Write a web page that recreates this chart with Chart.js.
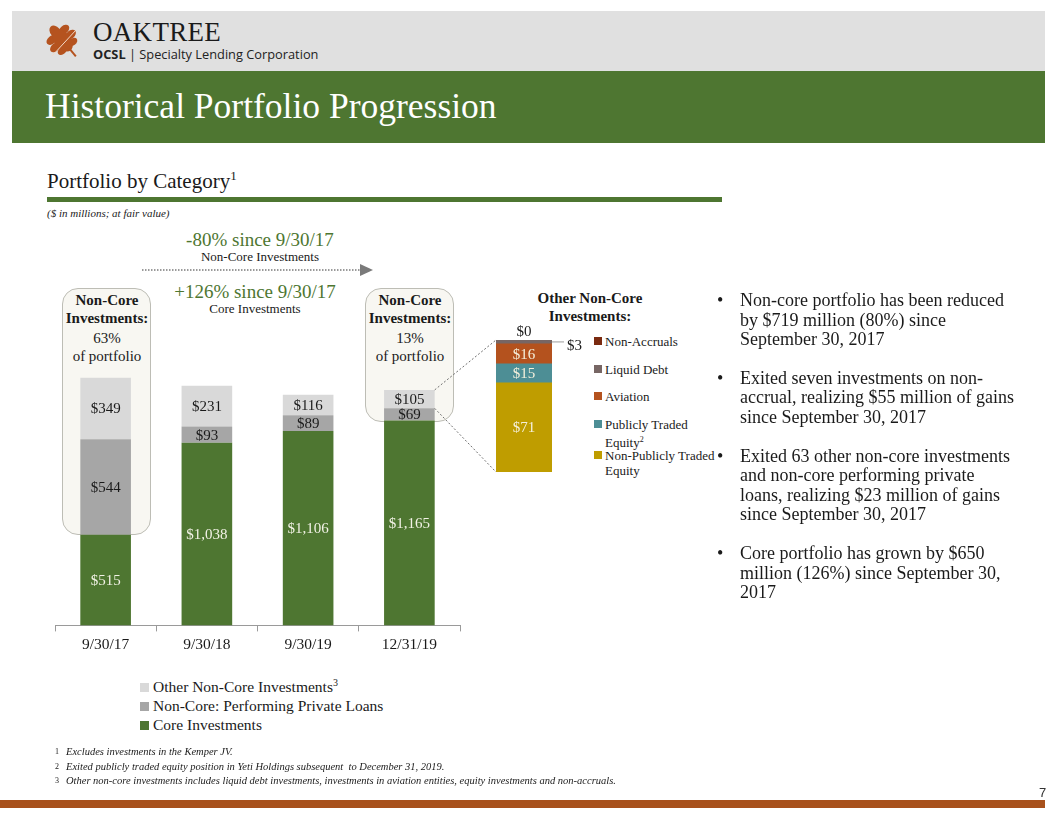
<!DOCTYPE html>
<html>
<head>
<meta charset="utf-8">
<script src="https://cdn.jsdelivr.net/npm/chart.js@4.4.1/dist/chart.umd.min.js"></script>
<style>
  html,body{margin:0;padding:0;background:#fff;}
  body{width:1056px;height:816px;position:relative;overflow:hidden;font-family:"Liberation Serif",serif;color:#1a1a1a;}
  .abs{position:absolute;}
  #topband{left:12px;top:11px;width:1033px;height:60px;background:#e0e0e0;}
  #greenband{left:12px;top:71px;width:1033px;height:72px;background:#4e7631;}
  #title{left:45px;top:85px;font-size:35.5px;color:#fff;white-space:nowrap;}
  #oak{left:93px;top:17px;font-size:27px;letter-spacing:0.3px;color:#1a1a1a;}
  #ocsl{left:93px;top:45px;font-family:"Open Sans",sans-serif;font-size:12.8px;color:#222;white-space:nowrap;}
  #sub{left:47px;top:168px;font-size:21px;white-space:nowrap;}
  #rule{left:47px;top:197px;width:675px;height:5px;background:#4e7631;}
  #units{left:47px;top:207px;font-size:11px;font-style:italic;}
  .ctr{text-align:center;white-space:nowrap;}
  .green{color:#4e7631;}
  .box{background:#f8f7f2;border:1.5px solid #bdbdb5;border-radius:16px;box-sizing:border-box;}
  .boxtxt{font-size:15px;line-height:18px;text-align:center;}
  #bullets{left:717px;top:291px;width:300px;font-size:18px;line-height:19.6px;}
  #bullets p{margin:0 0 19px 0;padding-left:23px;position:relative;}
  #bullets p:before{content:"\2022";position:absolute;left:0;top:0;}
  .leg{font-size:15.5px;line-height:19px;}
  .sq{display:inline-block;width:9px;height:9px;margin-right:4px;}
  .sleg{font-size:13px;line-height:15px;}
  .ssq{display:inline-block;width:8px;height:8px;margin-right:3px;}
  #foot{left:55px;top:745px;font-size:10.5px;font-style:italic;line-height:14.5px;}
  #foot sup{font-style:normal;font-size:8px;display:inline-block;width:11px;vertical-align:top;}
  #bottombar{left:0;top:800px;width:1045px;height:8px;background:#a8511c;}
  #pnum{left:1039px;top:785px;font-family:"Liberation Sans",sans-serif;font-size:13px;color:#333;}
</style>
</head>
<body>
<div id="topband" class="abs"></div>
<svg class="abs" style="left:40px;top:18px" width="46" height="46" viewBox="0 0 46 46">
  <g fill="#b5531f" transform="rotate(-40 23 23)">
    <ellipse cx="23" cy="11" rx="5" ry="7"/>
    <ellipse cx="15" cy="15" rx="6" ry="4"/>
    <ellipse cx="31" cy="15" rx="6" ry="4"/>
    <ellipse cx="13" cy="23" rx="6" ry="4"/>
    <ellipse cx="33" cy="23" rx="6" ry="4"/>
    <ellipse cx="16" cy="30" rx="5" ry="3.5"/>
    <ellipse cx="30" cy="30" rx="5" ry="3.5"/>
    <ellipse cx="23" cy="22" rx="8" ry="13"/>
    <rect x="22" y="33" width="2" height="10"/>
  </g>
  <line x1="12" y1="38" x2="36" y2="12" stroke="#f3d9c8" stroke-width="1"/>
</svg>
<div id="oak" class="abs">OAKTREE</div>
<div id="ocsl" class="abs"><b>OCSL</b> | Specialty Lending Corporation</div>
<div id="greenband" class="abs"></div>
<div id="title" class="abs">Historical Portfolio Progression</div>

<div id="sub" class="abs">Portfolio by Category<sup style="font-size:13px">1</sup></div>
<div id="rule" class="abs"></div>
<div id="units" class="abs">($ in millions; at fair value)</div>

<div class="abs ctr green" style="left:160px;width:200px;top:229px;font-size:19px;">-80% since 9/30/17</div>
<div class="abs ctr" style="left:160px;width:200px;top:249px;font-size:13px;">Non-Core Investments</div>
<svg class="abs" style="left:138px;top:262px" width="240" height="16">
  <line x1="4" y1="8" x2="222" y2="8" stroke="#7a7a7a" stroke-width="1.5" stroke-dasharray="1.5,1.5"/>
  <polygon points="222,2 235,8 222,14" fill="#7a7a7a"/>
</svg>
<div class="abs ctr green" style="left:155px;width:200px;top:281px;font-size:19px;">+126% since 9/30/17</div>
<div class="abs ctr" style="left:155px;width:200px;top:301px;font-size:13px;">Core Investments</div>

<div class="abs box" style="left:62px;top:288px;width:89px;height:247px;"></div>
<div class="abs boxtxt" style="left:57px;top:291px;width:100px;"><b>Non-Core<br>Investments:</b><div style="margin-top:2px">63%<br>of portfolio</div></div>
<div class="abs box" style="left:365px;top:288px;width:89px;height:134px;"></div>
<div class="abs boxtxt" style="left:360px;top:291px;width:100px;"><b>Non-Core<br>Investments:</b><div style="margin-top:2px">13%<br>of portfolio</div></div>

<canvas id="mainChart" class="abs" style="left:40px;top:340px;"></canvas>
<div id="mainLegend" class="abs leg" style="left:140px;top:673px;"></div>

<div class="abs ctr" style="left:520px;width:140px;top:289px;font-size:15px;line-height:18px;font-weight:bold;">Other Non-Core<br>Investments:</div>
<canvas id="smallChart" class="abs" style="left:480px;top:320px;"></canvas>
<div id="smallLegend" class="abs sleg" style="left:594px;top:334px;width:130px;"></div>

<canvas id="overlay" class="abs" style="left:0;top:0;pointer-events:none;" width="1056" height="816"></canvas>

<div id="bullets" class="abs">
  <p>Non-core portfolio has been reduced by $719 million (80%) since September 30, 2017</p>
  <p>Exited seven investments on non-accrual, realizing $55 million of gains since September 30, 2017</p>
  <p>Exited 63 other non-core investments and non-core performing private loans, realizing $23 million of gains since September 30, 2017</p>
  <p>Core portfolio has grown by $650 million (126%) since September 30, 2017</p>
</div>

<div id="foot" class="abs">
  <div><sup>1</sup>Excludes investments in the Kemper JV.</div>
  <div><sup>2</sup>Exited publicly traded equity position in Yeti Holdings subsequent&nbsp; to December 31, 2019.</div>
  <div><sup>3</sup>Other non-core investments includes liquid debt investments, investments in aviation entities, equity investments and non-accruals.</div>
</div>
<div id="bottombar" class="abs"></div>
<div id="pnum" class="abs">7</div>

<script>
// ---------- data ----------
const categories = ['9/30/17', '9/30/18', '9/30/19', '12/31/19'];
const coreInvestments = [515, 1038, 1106, 1165];
const performingLoans = [544, 93, 89, 69];
const otherNonCore = [349, 231, 116, 105];
const mainSeriesNames = ['Core Investments', 'Non-Core: Performing Private Loans', 'Other Non-Core Investments'];
const mainColors = ['#4e7631', '#a6a6a6', '#d9d9d9'];

const otherNames = ['Non-Publicly Traded Equity', 'Publicly Traded Equity', 'Aviation', 'Liquid Debt', 'Non-Accruals'];
const otherValues = [71, 15, 16, 3, 0];
const otherColors = ['#bf9d00', '#4d8e95', '#b4521e', '#776664', '#7a2a10'];

const SERIF = '"Liberation Serif", serif';
const fmt = v => '$' + v.toLocaleString('en-US');

// ---------- main chart ----------
const mainLabels = {
  id: 'mainLabels',
  afterDatasetsDraw(chart) {
    const ctx = chart.ctx;
    ctx.save();
    ctx.font = '15px ' + SERIF;
    ctx.textAlign = 'center';
    ctx.textBaseline = 'middle';
    chart.data.datasets.forEach((ds, di) => {
      chart.getDatasetMeta(di).data.forEach((el, i) => {
        ctx.fillStyle = di === 0 ? '#f2f2e6' : '#1a1a1a';
        ctx.fillText(fmt(ds.data[i]), el.x, (el.y + el.base) / 2 + 1);
      });
    });
    ctx.restore();
  }
};

const mc = document.getElementById('mainChart');
mc.width = 430; mc.height = 318;
const mainChart = new Chart(mc, {
  type: 'bar',
  data: {
    labels: categories,
    datasets: [
      { label: mainSeriesNames[0], data: coreInvestments, backgroundColor: mainColors[0] },
      { label: mainSeriesNames[1], data: performingLoans, backgroundColor: mainColors[1] },
      { label: mainSeriesNames[2], data: otherNonCore, backgroundColor: mainColors[2] }
    ]
  },
  options: {
    responsive: false, animation: false,
    layout: { padding: { left: 15, right: 10, top: 4, bottom: 0 } },
    datasets: { bar: { barPercentage: 0.5, categoryPercentage: 1 } },
    plugins: { legend: { display: false }, tooltip: { enabled: false } },
    scales: {
      x: {
        stacked: true,
        grid: { display: true, drawOnChartArea: false, drawTicks: true, tickLength: 6, color: '#9a9a9a', offset: true },
        border: { display: true, color: '#9a9a9a', width: 1 },
        ticks: { color: '#1a1a1a', font: { family: SERIF, size: 15.5 }, padding: 4 }
      },
      y: { stacked: true, display: false, min: 0, max: 1600 }
    }
  },
  plugins: [mainLabels]
});

// main legend (reverse order, as in the reference)
const ml = document.getElementById('mainLegend');
[2, 1, 0].forEach(i => {
  const d = document.createElement('div');
  d.innerHTML = '<span class="sq" style="background:' + mainColors[i] + '"></span>' + mainSeriesNames[i] +
    (i === 2 ? '<sup style="font-size:10px">3</sup>' : '');
  ml.appendChild(d);
});

// ---------- small chart ----------
const smallLabels = {
  id: 'smallLabels',
  afterDatasetsDraw(chart) {
    const ctx = chart.ctx;
    ctx.save();
    ctx.font = '15px ' + SERIF;
    ctx.textBaseline = 'middle';
    chart.data.datasets.forEach((ds, di) => {
      const el = chart.getDatasetMeta(di).data[0];
      const v = ds.data[0];
      if (v >= 10) {
        ctx.fillStyle = '#f5f0dc';
        ctx.textAlign = 'center';
        ctx.fillText(fmt(v), el.x, (el.y + el.base) / 2 + 1);
      } else if (v > 0) {
        const yy = (el.y + el.base) / 2;
        const xr = el.x + el.width / 2;
        ctx.strokeStyle = '#bdbdbd'; ctx.lineWidth = 1.5;
        ctx.beginPath(); ctx.moveTo(xr, yy); ctx.lineTo(xr + 12, yy); ctx.stroke();
        ctx.fillStyle = '#1a1a1a'; ctx.textAlign = 'left';
        ctx.fillText(fmt(v), xr + 15, yy + 4);
      } else {
        ctx.fillStyle = '#1a1a1a'; ctx.textAlign = 'center';
        ctx.fillText(fmt(v), el.x, el.y - 8);
      }
    });
    ctx.restore();
  }
};

const sc = document.getElementById('smallChart');
sc.width = 110; sc.height = 170;
const smallChart = new Chart(sc, {
  type: 'bar',
  data: {
    labels: ['Other Non-Core'],
    datasets: otherNames.map((n, i) => ({ label: n, data: [otherValues[i]], backgroundColor: otherColors[i] }))
  },
  options: {
    responsive: false, animation: false,
    layout: { padding: { left: 16, right: 38, top: 20, bottom: 18 } },
    datasets: { bar: { barPercentage: 1, categoryPercentage: 1 } },
    plugins: { legend: { display: false }, tooltip: { enabled: false } },
    scales: {
      x: { stacked: true, display: false },
      y: { stacked: true, display: false, min: 0, max: 105 }
    }
  },
  plugins: [smallLabels]
});

// small legend (top of stack first)
const sl = document.getElementById('smallLegend');
const legendText = ['Non-Accruals', 'Liquid Debt', 'Aviation', 'Publicly Traded<br>Equity<sup style="font-size:8px">2</sup>', 'Non-Publicly Traded<br>Equity'];
const legendIdx = [4, 3, 2, 1, 0];
const legendGap = [12.5, 12.5, 12.5, -2, 0];
legendIdx.forEach((idx, k) => {
  const d = document.createElement('div');
  d.style.display = 'flex';
  d.style.marginBottom = legendGap[k] + 'px';
  d.innerHTML = '<span class="ssq" style="background:' + otherColors[idx] + ';margin-top:3px;flex:none"></span><span>' + legendText[k] + '</span>';
  sl.appendChild(d);
});

// ---------- connector lines between the two charts ----------
(function drawConnectors() {
  const ov = document.getElementById('overlay').getContext('2d');
  const mr = mc.getBoundingClientRect(), sr = sc.getBoundingClientRect();
  const topEl = mainChart.getDatasetMeta(2).data[3];
  const midEl = mainChart.getDatasetMeta(1).data[3];
  const sTop = smallChart.getDatasetMeta(4).data[0];
  const sBot = smallChart.getDatasetMeta(0).data[0];
  const xr = mr.left + topEl.x + topEl.width / 2;
  const xl = sr.left + sTop.x - sTop.width / 2;
  ov.strokeStyle = '#6f6f6f'; ov.lineWidth = 1; ov.setLineDash([2, 2]);
  ov.beginPath();
  ov.moveTo(xr, mr.top + topEl.y); ov.lineTo(xl, sr.top + sTop.y);
  ov.moveTo(xr, mr.top + midEl.y); ov.lineTo(xl, sr.top + sBot.base);
  ov.stroke();
})();
</script>
</body>
</html>
